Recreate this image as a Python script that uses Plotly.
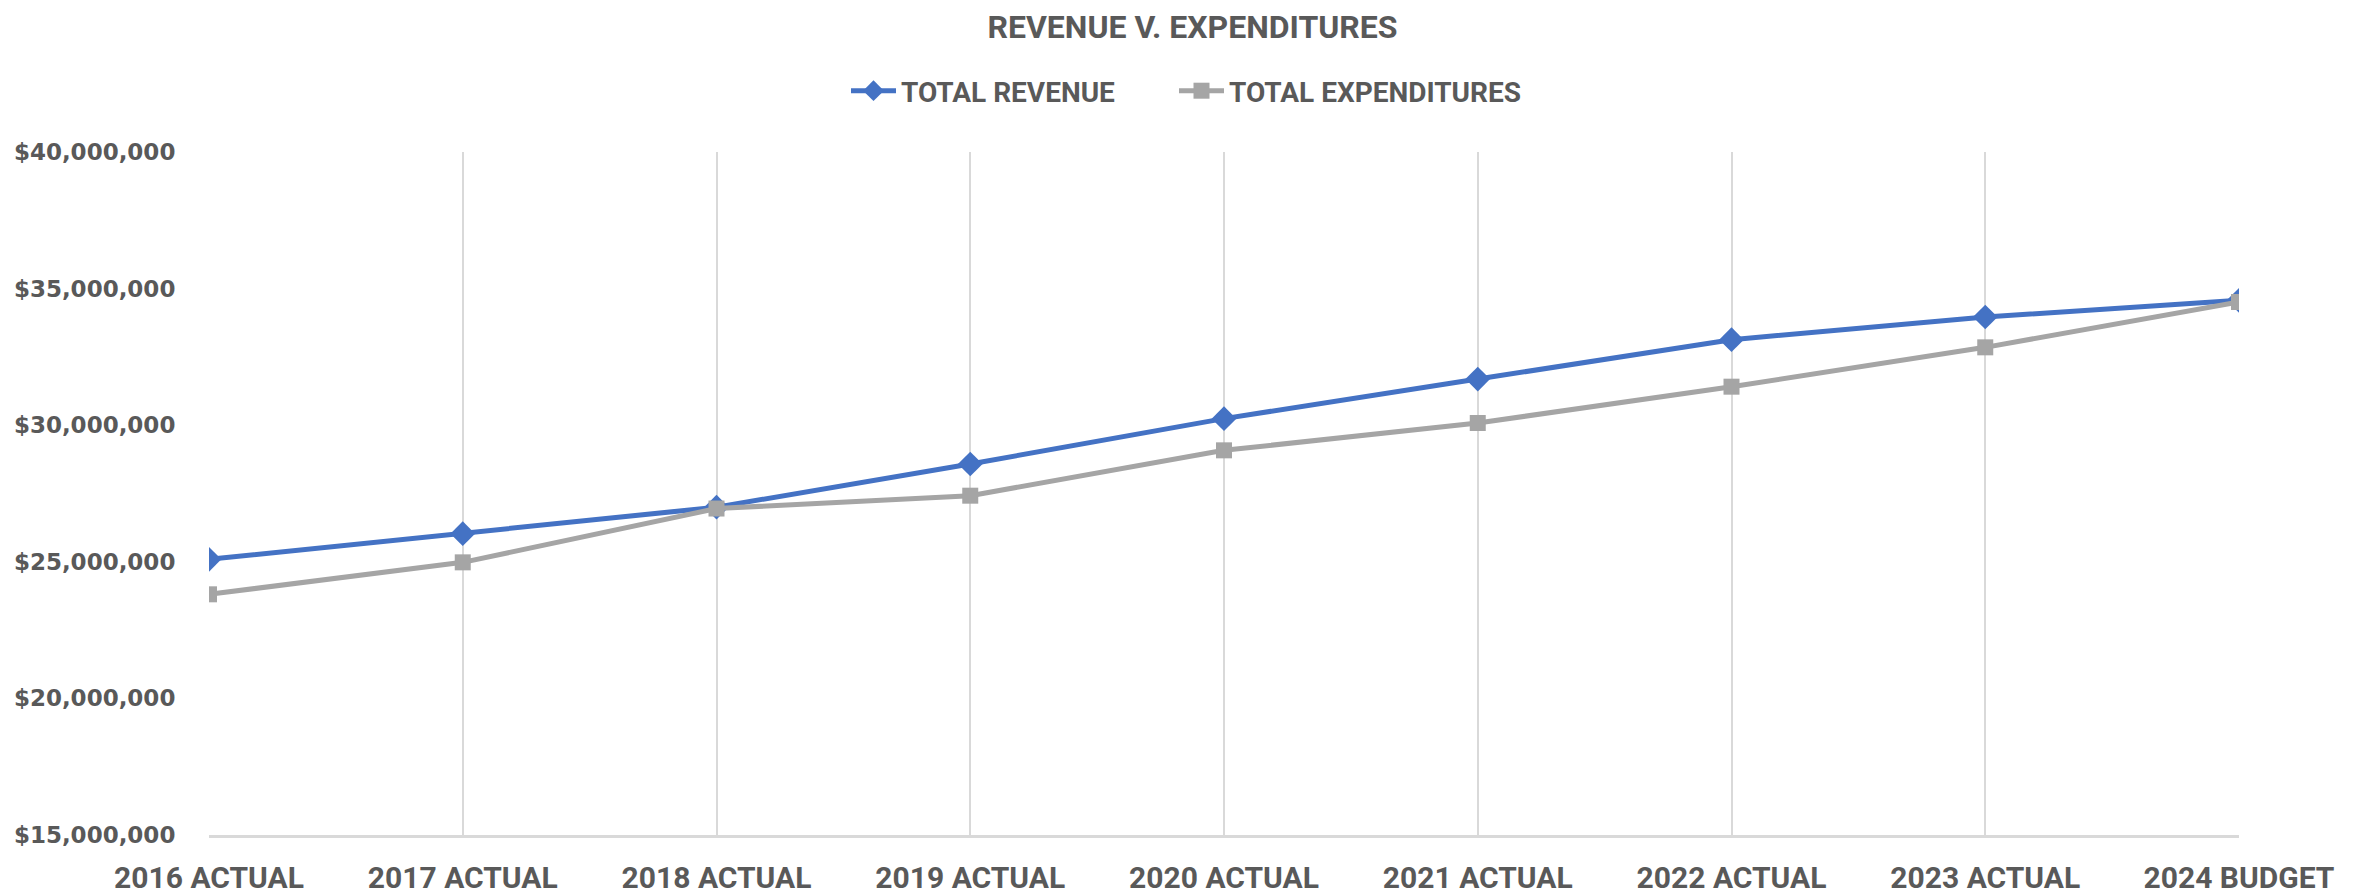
import plotly.graph_objects as go

categories = ["2016 ACTUAL", "2017 ACTUAL", "2018 ACTUAL", "2019 ACTUAL", "2020 ACTUAL",
              "2021 ACTUAL", "2022 ACTUAL", "2023 ACTUAL", "2024 BUDGET"]
total_revenue = [25090000, 26030000, 27000000, 28580000, 30240000,
                 31690000, 33130000, 33960000, 34570000]
total_expenditures = [23810000, 24980000, 26950000, 27420000, 29080000,
                      30080000, 31410000, 32850000, 34510000]
y_ticks = [15000000, 20000000, 25000000, 30000000, 35000000, 40000000]
y_tick_labels = ["${:,.0f}".format(v) for v in y_ticks]

TXT = "#595959"
NARROW = "Liberation Sans Narrow, Roboto, Lato, sans-serif"

# page body has an 8px margin; size figure so it fits the 2377x894 window
W, H = 2369, 886

fig = go.Figure()
fig.add_trace(go.Scatter(
    x=categories, y=total_revenue, name="TOTAL REVENUE", mode="lines+markers",
    line=dict(color="#4472C4", width=5),
    marker=dict(symbol="diamond", size=19, color="#4472C4"),
    legend="legend",
))
fig.add_trace(go.Scatter(
    x=categories, y=total_expenditures, name="TOTAL EXPENDITURES", mode="lines+markers",
    line=dict(color="#A5A5A5", width=5),
    marker=dict(symbol="square", size=16, color="#A5A5A5"),
    legend="legend2",
))

legend_font = dict(family=NARROW, size=28, color=TXT, weight="bold")
fig.update_layout(
    width=W, height=H,
    margin=dict(l=201, r=138, t=144, b=59, autoexpand=False),
    plot_bgcolor="white", paper_bgcolor="white",
    title=dict(text="<b>REVENUE V. EXPENDITURES</b>", x=0.5, xref="container", xanchor="center",
               y=1 - 19 / H, yref="container", yanchor="middle",
               font=dict(family=NARROW, size=32, color=TXT)),
    legend=dict(orientation="h", x=838 / W, xanchor="left", xref="container",
                y=1 - 83 / H, yref="container", yanchor="middle",
                font=legend_font, itemwidth=45),
    legend2=dict(orientation="h", x=1166 / W, xanchor="left", xref="container",
                 y=1 - 83 / H, yref="container", yanchor="middle",
                 font=legend_font, itemwidth=45),
    showlegend=True,
)
fig.update_xaxes(
    type="category", range=[0, 8], showgrid=True, gridcolor="#D9D9D9", gridwidth=1.5,
    showline=True, linecolor="#D9D9D9", linewidth=2.5, zeroline=False,
    ticks="outside", ticklen=0, ticklabelstandoff=14, automargin=False,
    tickfont=dict(family=NARROW, size=30, color=TXT, weight="bold"),
)
fig.update_yaxes(
    range=[15000000, 40000000], tickvals=y_ticks, ticktext=y_tick_labels,
    showgrid=False, zeroline=False, showline=False, automargin=False,
    ticks="outside", ticklen=0, ticklabelstandoff=28,
    tickfont=dict(family="DejaVu Sans", size=23, color=TXT, weight="bold"),
)

fig.write_html("out.html")
